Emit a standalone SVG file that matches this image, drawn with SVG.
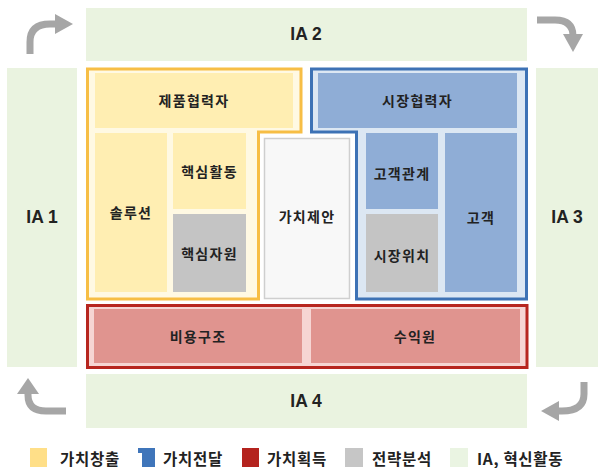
<svg xmlns="http://www.w3.org/2000/svg" width="604" height="468" viewBox="0 0 604 468">
<style>
.t{font-family:"Noto Sans CJK KR","Liberation Sans",sans-serif;font-weight:bold;fill:#222;text-anchor:middle;dominant-baseline:central}
.n{font-size:14px;letter-spacing:1.3px}
.ia{font-size:17.5px;font-family:"Liberation Sans","Noto Sans CJK KR",sans-serif}
.lg{font-size:15.5px;letter-spacing:0.7px;text-anchor:start}
.g{fill:#EAF3E0}
.y{fill:#FFEEB2}
.b{fill:#8FADD6}
.gr{fill:#C4C4C4}
.r{fill:#E0948F}
.arr{fill:none;stroke:#A6A6A6;stroke-width:7}
.ah{fill:#A6A6A6}
</style>
<rect width="604" height="468" fill="#fff"/>
<g id="ia2"><rect class="g" x="86" y="8" width="441" height="53"/><text class="t ia" x="306" y="34">IA 2</text></g>
<g id="ia1"><rect class="g" x="7" y="68" width="70" height="299"/><text class="t ia" x="42" y="217">IA 1</text></g>
<g id="ia3"><rect class="g" x="536" y="68" width="62" height="299"/><text class="t ia" x="567" y="217">IA 3</text></g>
<g id="ia4"><rect class="g" x="86" y="374" width="441" height="54"/><text class="t ia" x="306" y="401">IA 4</text></g>

<g id="create">
<polygon points="87.5,69 301,69 301,132 258.5,132 258.5,299 87.5,299" fill="#FFF9E3" stroke="#F7BE45" stroke-width="3"/>
</g>
<g id="n-partner"><rect class="y" x="95" y="73" width="198" height="55"/><text class="t n" x="194" y="100">제품협력자</text></g>
<g id="n-solution"><rect class="y" x="95" y="133" width="72" height="159"/><text class="t n" x="131" y="212">솔루션</text></g>
<g id="n-activity"><rect class="y" x="173" y="133" width="73" height="76"/><text class="t n" x="209.5" y="171">핵심활동</text></g>
<g id="n-resource"><rect class="gr" x="173" y="214" width="73" height="78"/><text class="t n" x="209.5" y="253">핵심자원</text></g>

<g id="n-value"><rect x="264.5" y="138.5" width="85" height="160" fill="#F8F8F8" stroke="#CFCFCF" stroke-width="1.5"/><text class="t n" x="307" y="216">가치제안</text></g>

<g id="deliver">
<polygon points="311.5,69 526.5,69 526.5,299 356.5,299 356.5,132 311.5,132" fill="#DCE7F3" stroke="#3D72B5" stroke-width="3"/>
</g>
<g id="n-mpartner"><rect class="b" x="318" y="73" width="199" height="55"/><text class="t n" x="417.5" y="100">시장협력자</text></g>
<g id="n-relation"><rect class="b" x="366" y="133" width="72" height="76"/><text class="t n" x="402" y="173">고객관계</text></g>
<g id="n-position"><rect class="gr" x="366" y="214" width="72" height="78"/><text class="t n" x="402" y="255">시장위치</text></g>
<g id="n-customer"><rect class="b" x="445" y="133" width="72" height="159"/><text class="t n" x="481" y="217">고객</text></g>

<g id="capture"><rect x="87.5" y="305.5" width="439.5" height="62" fill="#F6D5D3" stroke="#B7261F" stroke-width="3"/></g>
<g id="n-cost"><rect class="r" x="94" y="309" width="208" height="54"/><text class="t n" x="198" y="336">비용구조</text></g>
<g id="n-revenue"><rect class="r" x="311" y="309" width="209" height="54"/><text class="t n" x="415" y="336">수익원</text></g>

<g id="connectors">
<path class="arr" d="M30 54 L30 42 Q30 24 50 24 L56 24"/>
<polygon class="ah" points="55,14 73,24 55,34"/>
<path class="arr" d="M537 20 L555 20 Q573 20 573 36"/>
<polygon class="ah" points="563,34 583,34 573,52"/>
<path class="arr" d="M584 382 L584 394 Q584 411 562 411 L559 411"/>
<polygon class="ah" points="559,401 559,421 541,411"/>
<path class="arr" d="M66 411 L46 411 Q28 411 28 395 L28 393"/>
<polygon class="ah" points="17,394 39,394 28,378"/>
</g>

<g id="legend">
<polygon points="30,448 47,448 47,467 33,467 33,452 30,452" fill="#FFDF88"/>
<polygon points="30,448 33,448 33,467 30,467" fill="#FFDF88"/>
<text class="t lg" x="60" y="458">가치창출</text>
<polygon points="138,448 155,448 155,467 142,467 142,453 138,453" fill="#3F75BA"/>
<text class="t lg" x="163" y="458">가치전달</text>
<rect x="242" y="448" width="17" height="19" fill="#B4231E"/>
<text class="t lg" x="267" y="458">가치획득</text>
<rect x="345" y="448" width="18" height="19" fill="#C6C6C6"/>
<text class="t lg" x="372" y="458">전략분석</text>
<rect x="450" y="448" width="18" height="19" fill="#EAF4E2"/>
<text class="t lg" x="477" y="458">IA, 혁신활동</text>
</g>
</svg>
